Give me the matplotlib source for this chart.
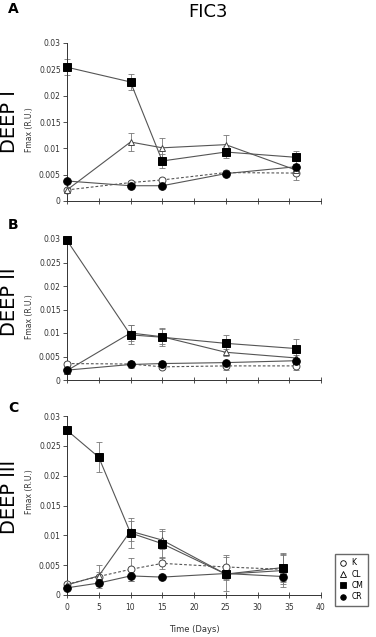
import numpy as np
import matplotlib.pyplot as plt

# Sampling days for each experiment
days_a = [0, 10, 15, 25, 36]
days_b = [0, 10, 15, 25, 36]
days_c = [0, 5, 10, 15, 25, 34]

# DEEP I  (Fmax, R.U.)
k_a = [0.0021, 0.0035, 0.0040, 0.0054, 0.0053]
cl_a = [0.0021, 0.0112, 0.0101, 0.0107, 0.0059]
cm_a = [0.0254, 0.0226, 0.0076, 0.0093, 0.0083]
cr_a = [0.0038, 0.0029, 0.0029, 0.0052, 0.0065]
k_a_err = [0.0003, 0.0003, 0.0003, 0.0004, 0.0013]
cl_a_err = [0.0004, 0.0017, 0.0019, 0.0018, 0.0006]
cm_a_err = [0.0015, 0.0015, 0.0013, 0.0012, 0.0012]
cr_a_err = [0.0002, 0.0003, 0.0003, 0.0003, 0.0005]

# DEEP II
k_b = [0.0035, 0.0034, 0.0028, 0.0030, 0.0030]
cl_b = [0.0020, 0.0100, 0.0092, 0.0059, 0.0047]
cm_b = [0.0297, 0.0096, 0.0091, 0.0078, 0.0067]
cr_b = [0.0021, 0.0033, 0.0035, 0.0037, 0.0041]
k_b_err = [0.0003, 0.0003, 0.0005, 0.0008, 0.0008]
cl_b_err = [0.0006, 0.0017, 0.0016, 0.0008, 0.0007]
cm_b_err = [0.0003, 0.0020, 0.0019, 0.0018, 0.0020]
cr_b_err = [0.0004, 0.0007, 0.0005, 0.0004, 0.0004]

# DEEP III
k_c = [0.0018, 0.0031, 0.0043, 0.0053, 0.0047, 0.0043]
cl_c = [0.0017, 0.0032, 0.0107, 0.0092, 0.0035, 0.0041]
cm_c = [0.0276, 0.0231, 0.0104, 0.0086, 0.0035, 0.0046]
cr_c = [0.0012, 0.0020, 0.0032, 0.0030, 0.0036, 0.0031]
k_c_err = [0.0003, 0.0019, 0.0019, 0.0010, 0.0020, 0.0024]
cl_c_err = [0.0003, 0.0007, 0.0017, 0.0015, 0.0028, 0.0028]
cm_c_err = [0.0003, 0.0025, 0.0025, 0.0024, 0.0010, 0.0025]
cr_c_err = [0.0002, 0.0005, 0.0008, 0.0004, 0.0005, 0.0008]

panels = [
    ("A", "DEEP I", days_a, (k_a, cl_a, cm_a, cr_a), (k_a_err, cl_a_err, cm_a_err, cr_a_err)),
    ("B", "DEEP II", days_b, (k_b, cl_b, cm_b, cr_b), (k_b_err, cl_b_err, cm_b_err, cr_b_err)),
    ("C", "DEEP III", days_c, (k_c, cl_c, cm_c, cr_c), (k_c_err, cl_c_err, cm_c_err, cr_c_err)),
]

series_names = ["K", "CL", "CM", "CR"]
markers = ["o", "^", "s", "o"]
faces = ["white", "white", "black", "black"]
styles = [(0, (2.5, 1.8)), "-", "-", "-"]
msizes = [5, 5, 6, 5.5]

W, H = 376, 637
fig = plt.figure(figsize=(W / 100, H / 100), dpi=100)

# axes boxes in pixels: (left, top, right, bottom)
boxes = [(67, 43, 321, 201), (67, 239, 321, 380), (67, 416, 321, 595)]
letter_y = [9, 225, 408]
deep_y = [122, 302, 497]

line_col = "#555555"
err_col = "#777777"
txt_col = "#333333"

for i, (letter, deep, days, vals, errs) in enumerate(panels):
    l, t, r, b = boxes[i]
    ax = fig.add_axes([l / W, 1 - b / H, (r - l) / W, (b - t) / H])
    # draw open markers first, then filled
    for j in [1, 0, 3, 2]:
        ax.errorbar(days, vals[j], yerr=errs[j], fmt="none", ecolor=err_col,
                    elinewidth=0.6, capsize=2, capthick=0.6, clip_on=False, zorder=2)
        ax.plot(days, vals[j], linestyle=styles[j], color=line_col, lw=0.8,
                marker=markers[j], markerfacecolor=faces[j],
                markeredgecolor="black" if faces[j] == "black" else "#444444",
                markeredgewidth=0.7, markersize=msizes[j], clip_on=False,
                zorder=3 + j, label=series_names[j])
    ax.set_xlim(0, 40)
    ax.set_ylim(0, 0.03)
    ax.set_xticks(np.arange(0, 41, 5))
    ax.set_yticks([0, 0.005, 0.01, 0.015, 0.02, 0.025, 0.03])
    ax.set_yticklabels(["0", "0.005", "0.01", "0.015", "0.02", "0.025", "0.03"])
    for s in ["top", "right"]:
        ax.spines[s].set_visible(False)
    for s in ["left", "bottom"]:
        ax.spines[s].set_linewidth(0.7)
        ax.spines[s].set_color("#333333")
    ax.tick_params(axis="y", direction="out", length=3, width=0.6, labelsize=5.5,
                   pad=1.5, colors="#333333", labelcolor=txt_col)
    ax.tick_params(axis="x", direction="inout", length=5, width=0.6, labelsize=5.5,
                   pad=3, colors="#333333", labelcolor=txt_col)
    if i < 2:
        ax.set_xticklabels([])
    ax.set_ylabel("Fmax (R.U.)", fontsize=5.5, color=txt_col)
    ax.yaxis.set_label_coords(-0.13, 0.45 if i < 2 else 0.58)

    fig.text(8 / W, 1 - letter_y[i] / H, letter, fontsize=10, fontweight="bold",
             ha="left", va="center")
    fig.text(10 / W, 1 - deep_y[i] / H, deep, fontsize=14, rotation=90,
             ha="center", va="center")

    if i == 2:
        hs = [plt.Line2D([], [], linestyle="none", marker=markers[k],
                         markerfacecolor=faces[k], markeredgecolor="black",
                         markeredgewidth=0.6, markersize=4) for k in range(4)]
        fig.legend(hs, series_names, loc="upper left",
                   bbox_to_anchor=(331 / W, 1 - 550 / H), fontsize=5.5,
                   frameon=True, fancybox=False, edgecolor="#444444",
                   handlelength=1.0, handletextpad=0.6, labelspacing=0.3,
                   borderpad=0.6)

fig.text(194 / W, 1 - 630 / H, "Time (Days)", fontsize=6, ha="center",
         va="center", color=txt_col)
fig.text(208 / W, 1 - 12 / H, "FIC3", fontsize=13, ha="center", va="center")

fig.savefig("out.png", dpi=100)
